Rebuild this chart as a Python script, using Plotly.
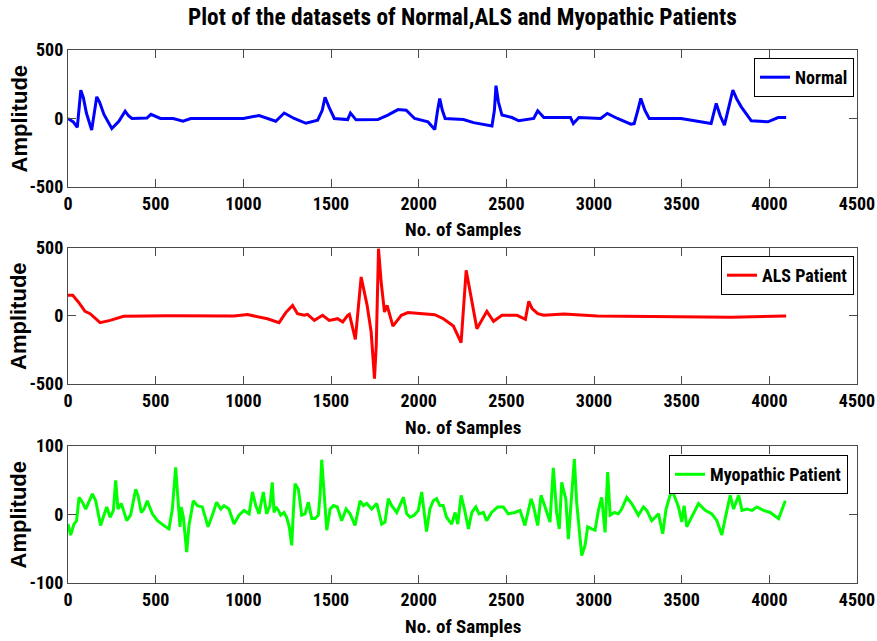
import plotly.graph_objects as go
from plotly.subplots import make_subplots

# ---------------- data ----------------
normal_x = [0, 30, 53, 73, 88, 105, 135, 150, 164, 180, 205, 250, 290, 326, 345, 365, 450, 473, 527, 600, 656,
            700, 1000, 1090, 1185, 1233, 1290, 1357, 1424, 1450, 1466, 1490, 1519, 1595, 1611, 1643, 1767,
            1824, 1882, 1929, 1977, 2053, 2092, 2108, 2120, 2135, 2151, 2256, 2313, 2418, 2432, 2441, 2455,
            2475, 2532, 2571, 2656, 2679, 2714, 2866, 2882, 2914, 3038, 3076, 3134, 3210, 3229, 3250, 3267,
            3290, 3315, 3496, 3573, 3668, 3697, 3720, 3744, 3765, 3792, 3815, 3840, 3897, 3992, 4050, 4096]
normal_y = [0, -25, -65, 207, 150, 40, -85, 60, 158, 120, 30, -73, -20, 54, 20, 0, 3, 30, 0, 0, -20,
            0, 0, 22, -20, 40, 0, -35, -12, 60, 155, 80, 0, -8, 40, -10, -8,
            25, 65, 60, 0, -25, -80, 60, 146, 60, 0, -7, -30, -55, 60, 240, 120,
            25, 7, -17, 0, 56, 7, 7, -37, 7, 0, 37, 0, -41, -37, 60, 146,
            60, 0, 0, -17, -37, 110, 20, -49, 60, 207, 140, 85, -17, -24, 7, 7]

als_x = [0, 27, 59, 97, 126, 155, 183, 240, 317, 565, 947, 1023, 1137, 1204, 1242, 1281, 1309, 1347,
         1366, 1405, 1452, 1490, 1538, 1567, 1595, 1605, 1639, 1672, 1706, 1729, 1748, 1758, 1771,
         1786, 1805, 1820, 1834, 1853, 1901, 1939, 2092, 2141, 2198, 2242, 2271, 2303, 2332, 2389,
         2427, 2475, 2561, 2609, 2628, 2647, 2679, 2714, 2828, 3019, 3401, 3782, 4096]
als_y = [152, 152, 103, 34, 17, -20, -49, -32, -2, 2, 0, 10, -20, -49, 25, 78, 17, 5,
         12, -32, 5, -32, -20, -44, 5, 12, -172, 287, 78, -118, -461, -216, 495,
         250, 29, 78, 5, -74, 5, 25, 10, -20, -74, -196, 336, 103, -93, 34,
         -39, 5, 5, -25, 108, 54, 17, 5, 15, 0, -7, -10, 0]

myo_x = [0, 15, 34, 49, 63, 82, 101, 139, 158, 186, 205, 221, 240, 259, 272, 285, 304, 335, 357,
         386, 399, 418, 434, 452, 481, 510, 557, 576, 595, 614, 627, 639, 646, 658, 677, 690, 715,
         738, 766, 799, 823, 848, 871, 890, 918, 947, 975, 1004, 1033, 1052, 1071, 1090, 1114,
         1133, 1152, 1165, 1175, 1186, 1200, 1213, 1232, 1247, 1262, 1276, 1285, 1295, 1314, 1333,
         1352, 1371, 1390, 1409, 1428, 1438, 1447, 1460, 1476, 1495, 1514, 1536, 1561, 1586, 1609,
         1637, 1666, 1685, 1704, 1732, 1761, 1789, 1808, 1827, 1846, 1875, 1913, 1932, 1951, 1974,
         1998, 2017, 2030, 2045, 2064, 2083, 2102, 2121, 2140, 2159, 2188, 2208, 2223, 2242, 2261,
         2284, 2303, 2326, 2345, 2369, 2388, 2416, 2451, 2483, 2511, 2549, 2578, 2606, 2641, 2654,
         2679, 2698, 2721, 2749, 2768, 2787, 2802, 2816, 2825, 2839, 2854, 2869, 2888, 2901, 2915,
         2930, 2949, 2964, 2987, 3006, 3025, 3044, 3063, 3078, 3092, 3116, 3139, 3158, 3187, 3215,
         3253, 3282, 3301, 3329, 3349, 3368, 3392, 3411, 3444, 3463, 3482, 3501, 3514, 3529, 3558,
         3596, 3634, 3672, 3701, 3729, 3748, 3777, 3796, 3825, 3844, 3872, 3901, 3929, 3967, 4005,
         4053, 4072, 4091]
myo_y = [-14, -30, -14, -9, 25, 18, 8, 30, 20, -16, -1, 11, -4, 6, 50, 8, 16, -9, -1,
         37, 28, 3, 8, 20, 1, -9, -18, -21, 8, 69, 23, -18, 11, -4, -55, -16, 20,
         13, 11, -18, -1, 18, 8, 13, 8, -14, -1, 6, 1, 33, 13, 1, 33,
         1, 13, 47, 3, 11, 6, -1, 3, -4, -18, -45, 3, 45, 37, -1,
         1, 18, -6, -6, -1, 30, 80, 28, -23, 8, 13, 11, -9, 8, 1,
         -16, 20, 13, 16, 8, 16, -14, -11, 23, 13, 3, 25, 1, -4, -1,
         6, 33, 3, -25, 8, 20, 23, 13, 13, -4, -14, 3, -14, 28, 8,
         -21, 3, 11, 1, 3, -9, 3, 11, 11, 1, 3, 6, -16, 23, 13,
         -16, 28, 11, -11, 68, 3, -21, 47, 37, 23, -36, 13, 81, 18, -26,
         -60, -45, -18, -21, -23, 6, 25, -26, 62, -1, 3, 1, 8, 25, 16,
         -1, 11, 6, -9, -4, 1, -28, 8, 37, 23, 11, -11, 13, -18, -4,
         16, 6, 1, -9, -30, -6, 28, 8, 28, 6, 8, 6, 11, 6, 3,
         -6, 8, 20]

x_ticks = [0, 500, 1000, 1500, 2000, 2500, 3000, 3500, 4000, 4500]
x_tick_text = ["0", "500", "1000", "1500", "2000", "2500", "3000", "3500", "4000", "4500"]
y_ticks_big = [-500, 0, 500]
y_text_big = ["-500", "0", "500"]
y_ticks_small = [-100, 0, 100]
y_text_small = ["-100", "0", "100"]

title_text = "Plot of the datasets of Normal,ALS and Myopathic Patients"
x_title = "No. of Samples"
y_title = "Amplitude"

# ---------------- figure ----------------
NARROW = "Roboto Condensed, Open Sans Condensed, DejaVu Sans Condensed, sans-serif"
WIDE = "Liberation Sans, Arial, sans-serif"
AXC = "#4a4a4a"
LW = 3

fig = make_subplots(rows=3, cols=1)

fig.add_trace(go.Scatter(x=normal_x, y=normal_y, mode="lines", name="Normal",
                         line=dict(color="#0000ff", width=LW), legend="legend"), row=1, col=1)
fig.add_trace(go.Scatter(x=als_x, y=als_y, mode="lines", name="ALS Patient",
                         line=dict(color="#ff0000", width=LW), legend="legend2"), row=2, col=1)
fig.add_trace(go.Scatter(x=myo_x, y=myo_y, mode="lines", name="Myopathic Patient",
                         line=dict(color="#00ff00", width=LW), legend="legend3"), row=3, col=1)

domains = [[0.743, 1.0], [0.3734, 0.6285], [0.0, 0.257]]
yranges = [[-500, 500], [-500, 500], [-100, 100]]
yticks = [y_ticks_big, y_ticks_big, y_ticks_small]
ytexts = [y_text_big, y_text_big, y_text_small]
xtitle_y = [0.664, 0.291, -0.0807]

tickfont = dict(family=NARROW, size=18, color="black", weight="bold")

for i in range(3):
    n = "" if i == 0 else str(i + 1)
    fig.update_layout(**{
        "xaxis" + n: dict(domain=[0, 1], range=[0, 4500], tickvals=x_ticks, ticktext=x_tick_text,
                          ticks="inside", ticklen=8, tickcolor=AXC, mirror="ticks",
                          showline=True, linecolor=AXC, linewidth=1.2, showgrid=False,
                          zeroline=False, automargin=False, ticklabeloverflow="allow",
                          tickfont=tickfont),
        "yaxis" + n: dict(domain=domains[i], range=yranges[i], tickvals=yticks[i], ticktext=ytexts[i],
                          ticks="inside", ticklen=8, tickcolor=AXC, mirror="ticks",
                          showline=True, linecolor=AXC, linewidth=1.2, showgrid=False,
                          zeroline=False, automargin=False, ticklabeloverflow="allow",
                          tickfont=tickfont),
    })
    fig.add_annotation(x=0.5, y=xtitle_y[i], xref="paper", yref="paper", showarrow=False,
                       xanchor="center", yanchor="middle", text=x_title,
                       font=dict(family=NARROW, size=19, color="black", weight="bold"))
    fig.add_annotation(x=-0.0621, y=(domains[i][0] + domains[i][1]) / 2, xref="paper", yref="paper",
                       showarrow=False, xanchor="center", yanchor="middle", text=y_title, textangle=-90,
                       font=dict(family=WIDE, size=22, color="black", weight="bold"))

fig.add_annotation(x=0.5, y=1.062, xref="paper", yref="paper", showarrow=False,
                   xanchor="center", yanchor="middle", text=title_text,
                   font=dict(family=NARROW, size=23.3, color="black", weight="bold"))

leg_common = dict(bgcolor="white", bordercolor="black", borderwidth=1, xanchor="right", yanchor="top",
                  font=dict(family=NARROW, size=18, color="black", weight="bold"), itemwidth=30)

fig.update_layout(
    width=877, height=641,
    margin=dict(l=68, r=20, t=50, b=58),
    paper_bgcolor="white", plot_bgcolor="white",
    showlegend=True,
    legend=dict(x=0.9962, y=0.985, **leg_common),
    legend2=dict(x=0.9962, y=0.6135, **leg_common),
    legend3=dict(x=0.9886, y=0.240, **leg_common),
)

# remove the browser's default 8px page margin so the figure fills the window exactly
fig.write_html("out.html",
               config={"displayModeBar": False},
               post_script="document.body.style.margin='0';document.body.style.overflow='hidden';")
